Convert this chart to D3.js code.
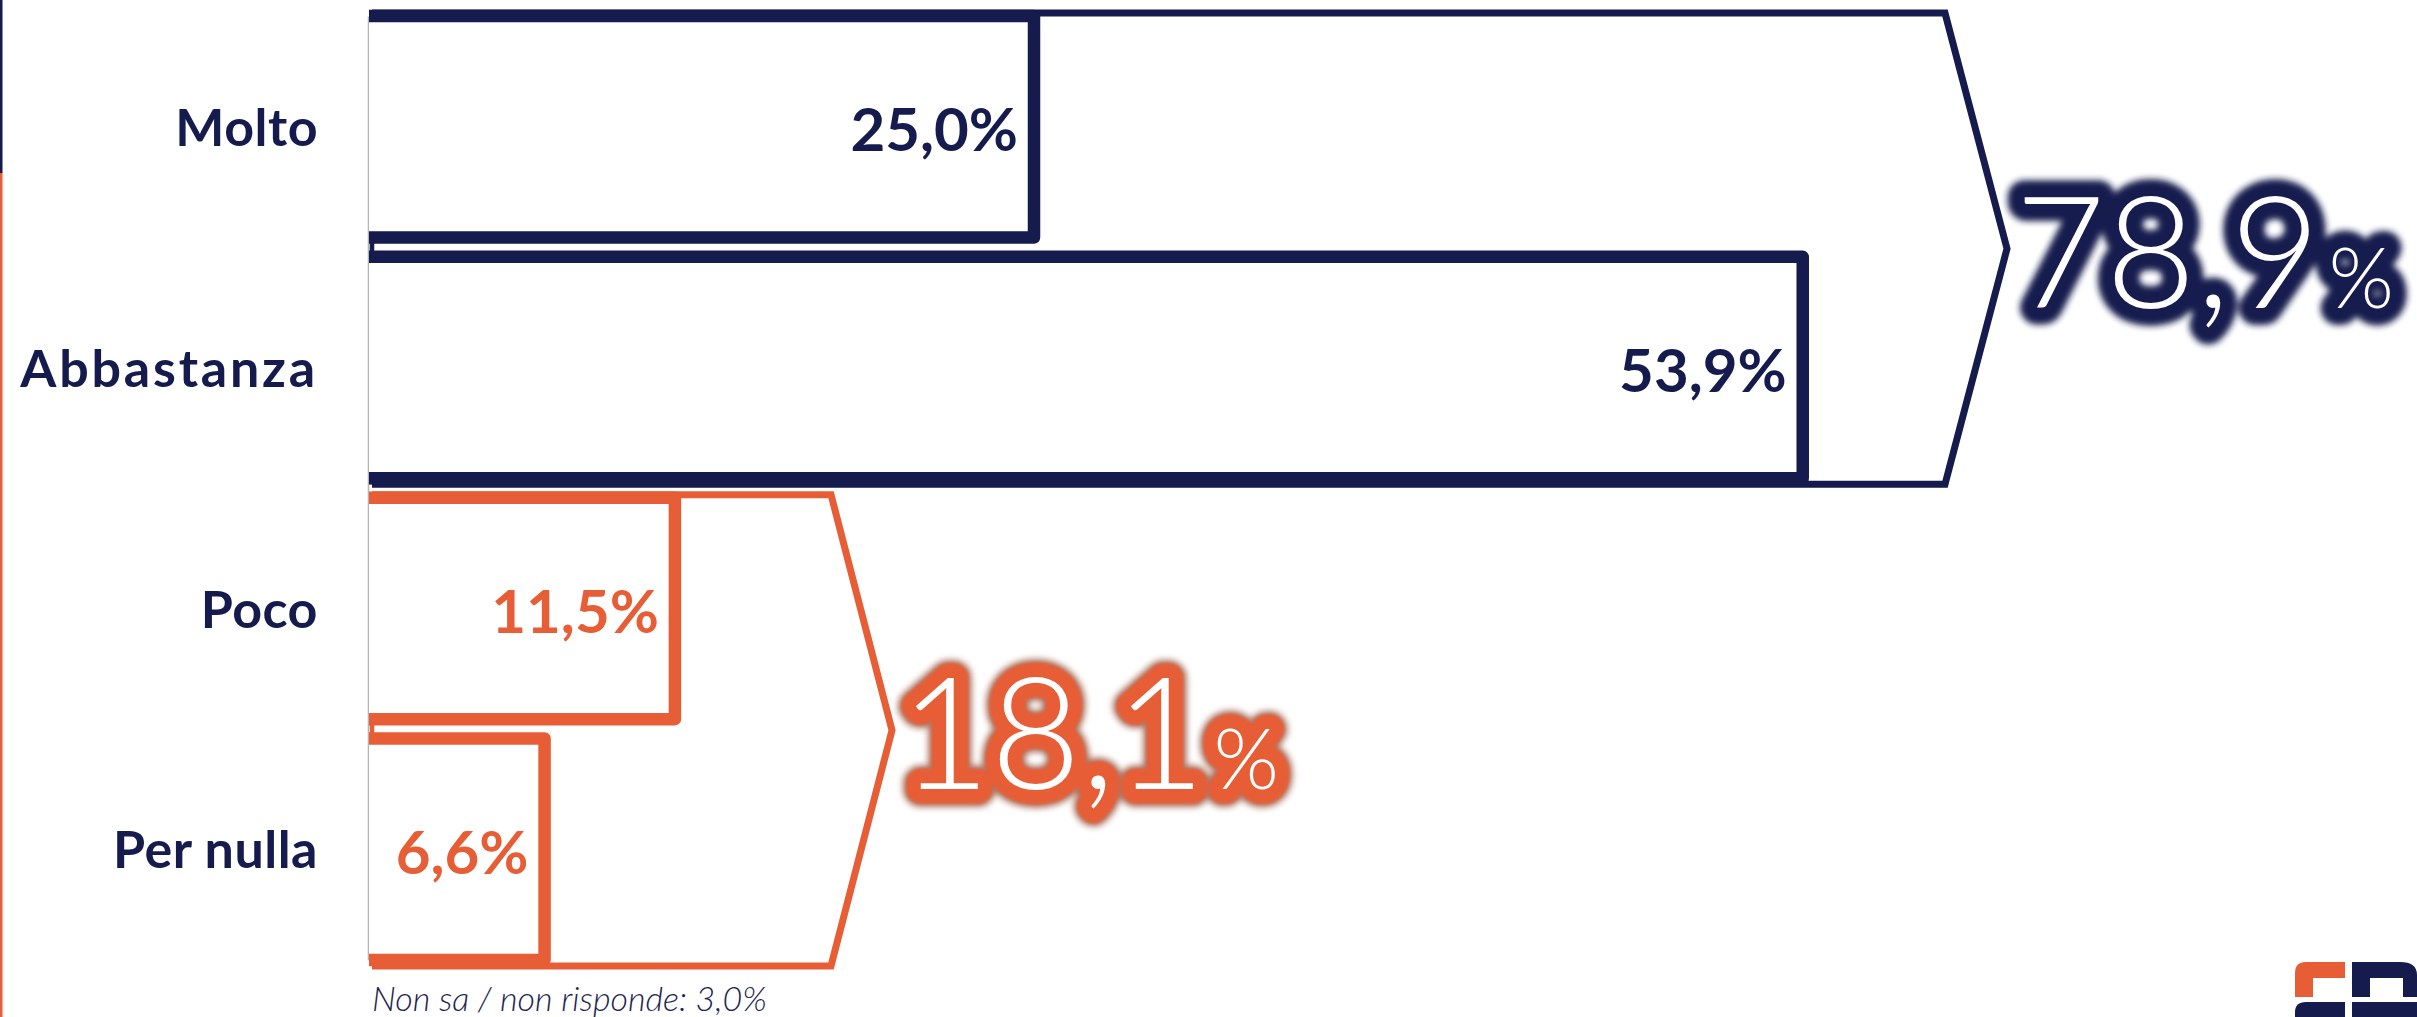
<!DOCTYPE html>
<html>
<head>
<meta charset="utf-8">
<script src="https://cdn.jsdelivr.net/npm/d3@7"></script>
<style>
  html, body { margin: 0; padding: 0; background: #ffffff; }
  svg { display: block; }
</style>
</head>
<body>
<svg id="chart" width="2417" height="1017"></svg>
<script>
// ---------------- DATA ----------------
const categories = ["Molto", "Abbastanza", "Poco", "Per nulla"];
const values = [25.0, 53.9, 11.5, 6.6];
const groupOf = ["pos", "pos", "neg", "neg"];
const groups = ["pos", "neg"];
const footnote = "Non sa / non risponde: 3,0%";

// ---------------- STYLE / LAYOUT ----------------
const W = 2417, H = 1017;
const NAVY = "#151b4d";
const ORANGE = "#e75d35";
const color = { pos: NAVY, neg: ORANGE };
const bracketTip = { pos: { base: 1945, tip: 2007 }, neg: { base: 831, tip: 892 } };

const itFormat = d3.formatLocale({ decimal: ",", thousands: ".", grouping: [3], currency: ["", "€"] }).format(".1f");

const svg = d3.select("#chart");

const x = d3.scaleLinear().domain([0, 100]).range([369, 369 + 2660]);
const y = d3.scaleBand().domain(categories).range([16, 960]).paddingInner(0.08).paddingOuter(0);
const bw = y.bandwidth();

const rows = categories.map((c, i) => ({ cat: c, value: values[i], group: groupOf[i] }));

// left edge strips
svg.append("rect").attr("x", 0).attr("y", 0).attr("width", 2.5).attr("height", 173).attr("fill", NAVY);
svg.append("rect").attr("x", 0).attr("y", 173).attr("width", 2.5).attr("height", H - 173).attr("fill", ORANGE);

// filters
const defs = svg.append("defs");
defs.append("filter").attr("id", "blur3").attr("x", "-20%").attr("y", "-20%").attr("width", "140%").attr("height", "140%")
  .append("feGaussianBlur").attr("stdDeviation", 3);
defs.append("filter").attr("id", "blur15").attr("x", "-20%").attr("y", "-20%").attr("width", "140%").attr("height", "140%")
  .append("feGaussianBlur").attr("stdDeviation", 1.5);

// axis (category labels + grey spine)
const axis = svg.append("g")
  .attr("transform", `translate(368,0)`)
  .call(d3.axisLeft(y).tickSize(0).tickPadding(50));
axis.select(".domain").attr("stroke", "#b4b4b8").attr("stroke-width", 1.5);
axis.selectAll(".tick text")
  .attr("fill", NAVY)
  .attr("dy", "0.37em")
  .style("font-family", "Lato, 'DejaVu Sans', sans-serif")
  .style("font-weight", 700)
  .style("font-size", "52px")
  .style("letter-spacing", d => d === "Abbastanza" ? "2.8px" : "0.5px");

// brackets
groups.forEach(g => {
  const gr = rows.filter(r => r.group === g);
  const top = y(gr[0].cat) - 3;
  const bottom = y(gr[gr.length - 1].cat) + bw + 6;
  const mid = (top + bottom) / 2;
  const x0 = x(0) + 3;
  const b = bracketTip[g];
  const p = d3.path();
  p.moveTo(x0, top); p.lineTo(b.base, top); p.lineTo(b.tip, mid); p.lineTo(b.base, bottom); p.lineTo(x0, bottom);
  svg.append("path").attr("d", p.toString()).attr("fill", "none")
    .attr("stroke", color[g]).attr("stroke-width", 7).attr("stroke-linejoin", "miter");
  svg.append("line").attr("x1", x0).attr("x2", x0).attr("y1", top).attr("y2", bottom)
    .attr("stroke", color[g]).attr("stroke-width", 4.5);
});

// bars (open on the left side)
svg.append("g").selectAll("path.bar").data(rows).join("path")
  .attr("class", "bar")
  .attr("d", d => {
    const p = d3.path();
    const x0 = x(0), x1 = x(d.value), y0 = y(d.cat), y1 = y(d.cat) + bw;
    p.moveTo(x0, y0); p.lineTo(x1, y0); p.lineTo(x1, y1); p.lineTo(x0, y1);
    return p.toString();
  })
  .attr("fill", "#ffffff")
  .attr("stroke", d => color[d.group])
  .attr("stroke-width", 12.5)
  .attr("stroke-linejoin", "round");

// value labels
svg.append("g").selectAll("text.val").data(rows).join("text")
  .attr("class", "val")
  .attr("x", d => x(d.value) - 16)
  .attr("y", d => y(d.cat) + bw / 2 + 3)
  .attr("dy", "0.36em")
  .attr("text-anchor", "end")
  .attr("fill", d => color[d.group])
  .style("font-family", "Lato, 'DejaVu Sans', sans-serif")
  .style("font-weight", 700)
  .style("font-size", "60px")
  .text(d => itFormat(d.value) + "%");

// totals with glow
groups.forEach(g => {
  const gr = rows.filter(r => r.group === g);
  const total = d3.sum(gr, r => r.value);
  const top = y(gr[0].cat) - 3;
  const bottom = y(gr[gr.length - 1].cat) + bw + 6;
  const mid = (top + bottom) / 2;
  const tx = bracketTip[g].tip + 8, ty = mid + 59;
  const makeText = (sel) => {
    const t = sel.append("text").attr("x", tx).attr("y", ty)
      .style("font-family", "Lato, 'DejaVu Sans', sans-serif")
      .style("font-weight", 300)
      .style("font-size", "156px");
    t.append("tspan").text(itFormat(total));
    t.append("tspan").attr("dx", 8).style("font-size", "84px").text("%");
    return t;
  };
  if (g === "neg") {
    makeText(svg).attr("fill", "#8a3a22").attr("stroke", "#8a3a22").attr("stroke-width", 36)
      .attr("stroke-linejoin", "round").attr("opacity", 0.7).attr("filter", "url(#blur3)");
    makeText(svg).attr("fill", ORANGE).attr("stroke", ORANGE).attr("stroke-width", 29)
      .attr("stroke-linejoin", "round").attr("filter", "url(#blur15)");
  } else {
    makeText(svg).attr("fill", NAVY).attr("stroke", NAVY).attr("stroke-width", 34)
      .attr("stroke-linejoin", "round").attr("filter", "url(#blur3)");
  }
  makeText(svg).attr("fill", "#ffffff");
});

// footnote
svg.append("text")
  .attr("x", 372).attr("y", 1011)
  .attr("fill", "#1e2352")
  .style("font-family", "Lato, 'DejaVu Sans', sans-serif")
  .style("font-style", "italic")
  .style("font-weight", 300)
  .style("font-size", "34px")
  .text(footnote);

// logo (bottom-right, partially cut)
const logo = svg.append("g");
logo.append("path").attr("fill", ORANGE)
  .attr("d", "M2313,997 L2295,997 L2295,973 Q2295,962 2306,962 L2345,962 L2345,978 L2313,978 Z");
logo.append("path").attr("fill", NAVY).attr("fill-rule", "evenodd")
  .attr("d", "M2352,962 L2400,962 Q2417,962 2417,975 L2417,997 L2352,997 Z M2370,978 L2403,978 L2403,997 L2370,997 Z");
logo.append("path").attr("fill", NAVY)
  .attr("d", "M2295,1017 L2295,1012 Q2295,1002 2306,1002 L2345,1002 L2345,1017 Z");
logo.append("path").attr("fill", NAVY)
  .attr("d", "M2352,1002 L2417,1002 L2417,1017 L2352,1017 Z");
</script>
</body>
</html>
